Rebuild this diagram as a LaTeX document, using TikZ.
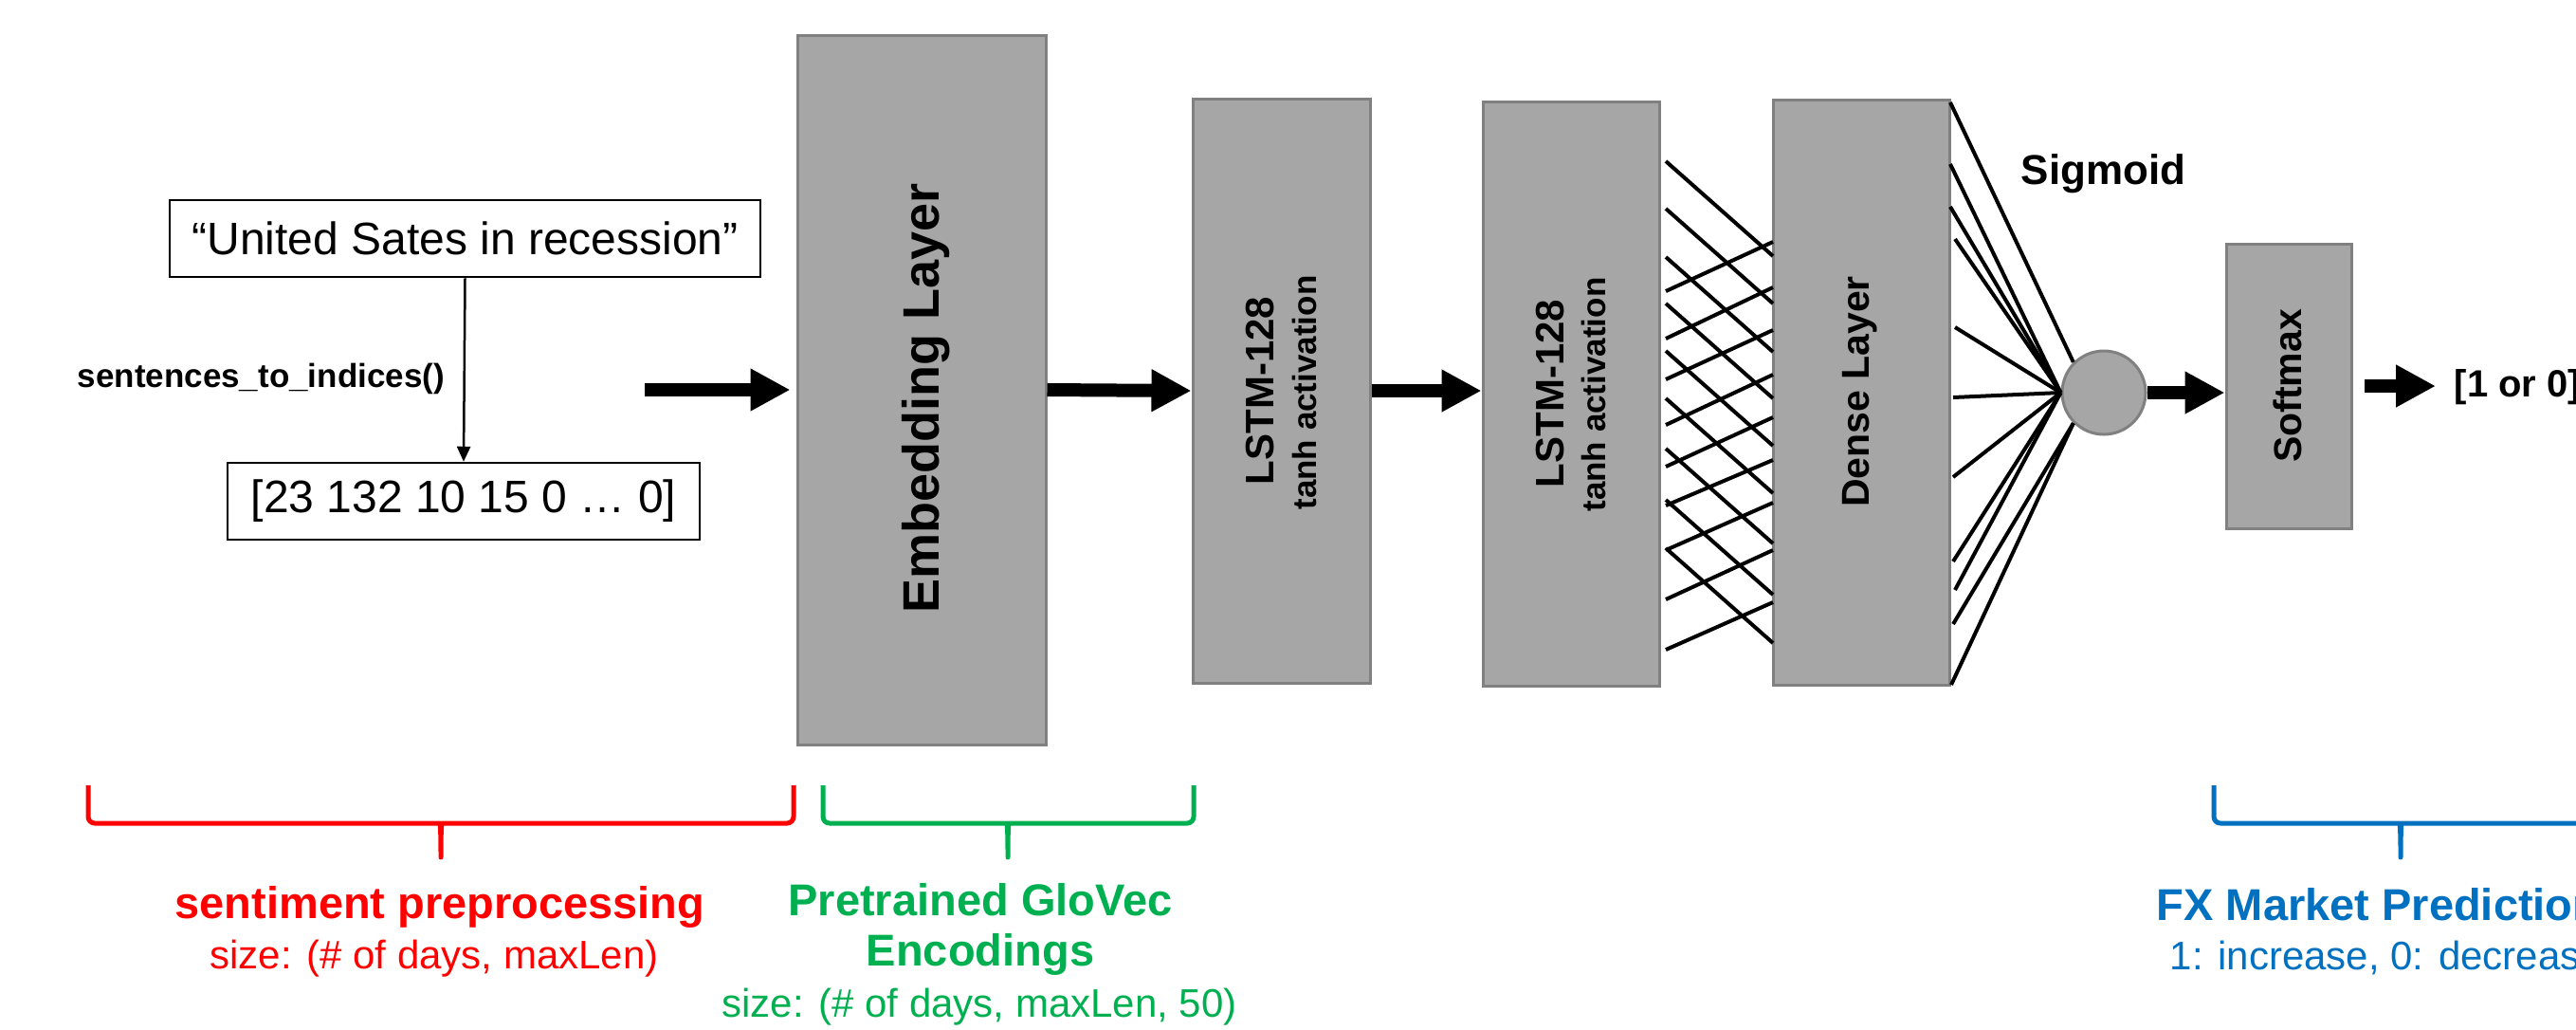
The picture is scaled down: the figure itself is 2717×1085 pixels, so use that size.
\documentclass[tikz,border=0pt]{standalone}
\usepackage{fontspec}
\setmainfont{Liberation Sans}
\usetikzlibrary{arrows.meta}

% one drawing unit is 0.25pt; all sizes below are in pt
\newcommand\fsz[1]{\fontsize{#1pt}{#1pt}\selectfont}

\definecolor{layergray}{HTML}{A6A6A6}
\definecolor{layeredge}{HTML}{808080}
\definecolor{prepred}{HTML}{FF0000}
\definecolor{embgreen}{HTML}{00B050}
\definecolor{predblue}{HTML}{0070C0}

\tikzset{
  txtbox/.style={draw=black, line width=0.625pt, fill=white, inner sep=0pt, font=\fsz{12}},
  layer/.style={draw=layeredge, line width=0.75pt, fill=layergray, inner sep=0pt},
  vlabel/.style={rotate=90, inner sep=0pt},
  wire/.style={line width=1pt, black},
  bigarrow/.style={line width=3.5pt, -{Triangle[length=10.5pt,width=10.5pt]}},
  thinarrow/.style={line width=0.625pt, -{Triangle[length=4pt,width=3.5pt]}},
  bracepath/.style={line width=1.25pt, rounded corners=1.75pt, line join=round},
  caption/.style={inner sep=0pt}
}

% horizontal curly brace: left end, tip, right end, colour
\newcommand\hbr[4]{%
  \draw[bracepath,#4] (#1,828) -- (#1,868) -- (#2-8,868)
    .. controls (#2-1,868) and (#2,872) .. (#2,908)
    .. controls (#2,872) and (#2+1,868) .. (#2+8,868)
    -- (#3,868) -- (#3,828);}

\begin{document}
\begin{tikzpicture}[x=0.25pt,y=-0.25pt]
\useasboundingbox (0,0) rectangle (2717,1085);
\clip (0,0) rectangle (2717,1085);

% input sentence and its index vector
\node[txtbox, minimum width=155.75pt, minimum height=20.25pt] (sent) at (490.5,251.5) {“United Sates in recession”};
\node[txtbox, minimum width=124.5pt, minimum height=20.25pt] (idx) at (489,528.5) {[23 132 10 15 0 … 0]};
\draw[thinarrow] (sent.south) -- (idx.north);
\node[caption, anchor=west, font=\fsz{8.75}\bfseries] (fn) at (81,399) {sentences\_to\_indices()};

% network layers
\node[layer, minimum width=65.5pt, minimum height=187pt] (emb) at (972,411) {};
\node[vlabel, font=\fsz{13.5}\bfseries] (embtxt) at (977,420) {Embedding Layer};

\node[layer, minimum width=46.75pt, minimum height=154pt] (lstmA) at (1351.5,412) {};
\node[vlabel, font=\fsz{10.5}\bfseries] (lstmAname) at (1329,412) {LSTM-128};
\node[vlabel, font=\fsz{8.75}\bfseries] (lstmAact) at (1376,414) {tanh activation};

\node[layer, minimum width=46.5pt, minimum height=154pt] (lstmB) at (1657,415) {};
\node[vlabel, font=\fsz{10.5}\bfseries] (lstmBname) at (1635,415) {LSTM-128};
\node[vlabel, font=\fsz{8.75}\bfseries] (lstmBact) at (1681,416) {tanh activation};

\node[layer, minimum width=46.5pt, minimum height=154.25pt] (dense) at (1963,413.5) {};
\node[vlabel, font=\fsz{10.25}\bfseries] (densetxt) at (1962,413) {Dense Layer};

\node[layer, circle, minimum size=22pt] (sig) at (2219,414) {};
\node[caption, anchor=west, font=\fsz{11}\bfseries] (sigtxt) at (2131,183) {Sigmoid};

\node[layer, minimum width=33pt, minimum height=75pt] (soft) at (2414,407) {};
\node[vlabel, font=\fsz{10.25}\bfseries] (softtxt) at (2413,407) {Softmax};

\node[caption, anchor=base west, font=\fsz{10}\bfseries] (out) at (2588,418) {[1 or 0]};

% dense connections between the second LSTM and the dense layer
\foreach \a in {170,220,271,320,370,420,473,527,578}
  \draw[wire] (1757,\a) -- (1870,\a+100);
\foreach \a/\b in {307/255,357/303,400/348,448/395,492/440,533/485,580/530,632/580,685/635}
  \draw[wire] (1757,\a) -- (1870,\b);

% fan-in to the sigmoid unit
\draw[wire] (2057,108) -- (sig.135);
\foreach \x/\y in {2057/173,2057/218,2062/252,2062/345,2060/419,2060/503,2060/592,2062/622}
  \draw[wire] (\x,\y) -- (sig.west);
\foreach \x/\y in {2060/658,2058/722}
  \draw[wire] (\x,\y) -- (sig.225);

% data flow arrows
\coordinate (instart) at (680,411);
\draw[bigarrow, shorten >=1.5pt] (instart) -- (instart -| emb.west);
\draw[bigarrow] (emb.east) -- (lstmA.west);
\draw[bigarrow] (lstmA.east) -- (lstmA.east -| lstmB.west);
\draw[bigarrow] (sig.east) -- (sig.east -| soft.west);
\draw[bigarrow, shorten <=3pt, shorten >=4.75pt] (soft.east) -- (soft.east -| out.west);

% stage braces and captions
\hbr{93}{465}{837}{prepred}
\hbr{868}{1063}{1259}{embgreen}
\hbr{2335}{2532}{2729}{predblue}

\node[caption, anchor=base, font=\fsz{11.75}\bfseries, text=prepred] (prepname) at (464,968) {sentiment preprocessing};
\node[caption, anchor=base, font=\fsz{10.5}, text=prepred] (prepsize) at (458,1021) {size: (\# of days, maxLen)};

\node[caption, anchor=base, font=\fsz{11.75}\bfseries, text=embgreen] (gloveA) at (1034,965) {Pretrained GloVec};
\node[caption, anchor=base, font=\fsz{11.75}\bfseries, text=embgreen] (gloveB) at (1034,1018) {Encodings};
\node[caption, anchor=base, font=\fsz{10.5}, text=embgreen] (glovesize) at (1033,1072) {size: (\# of days, maxLen, 50)};

\node[caption, anchor=base west, font=\fsz{11.75}\bfseries, text=predblue] (predname) at (2274,970) {FX Market Prediction};
\node[caption, anchor=base west, font=\fsz{10.5}, text=predblue] (predinfo) at (2288,1022) {1: increase, 0: decrease};
\end{tikzpicture}
\end{document}
